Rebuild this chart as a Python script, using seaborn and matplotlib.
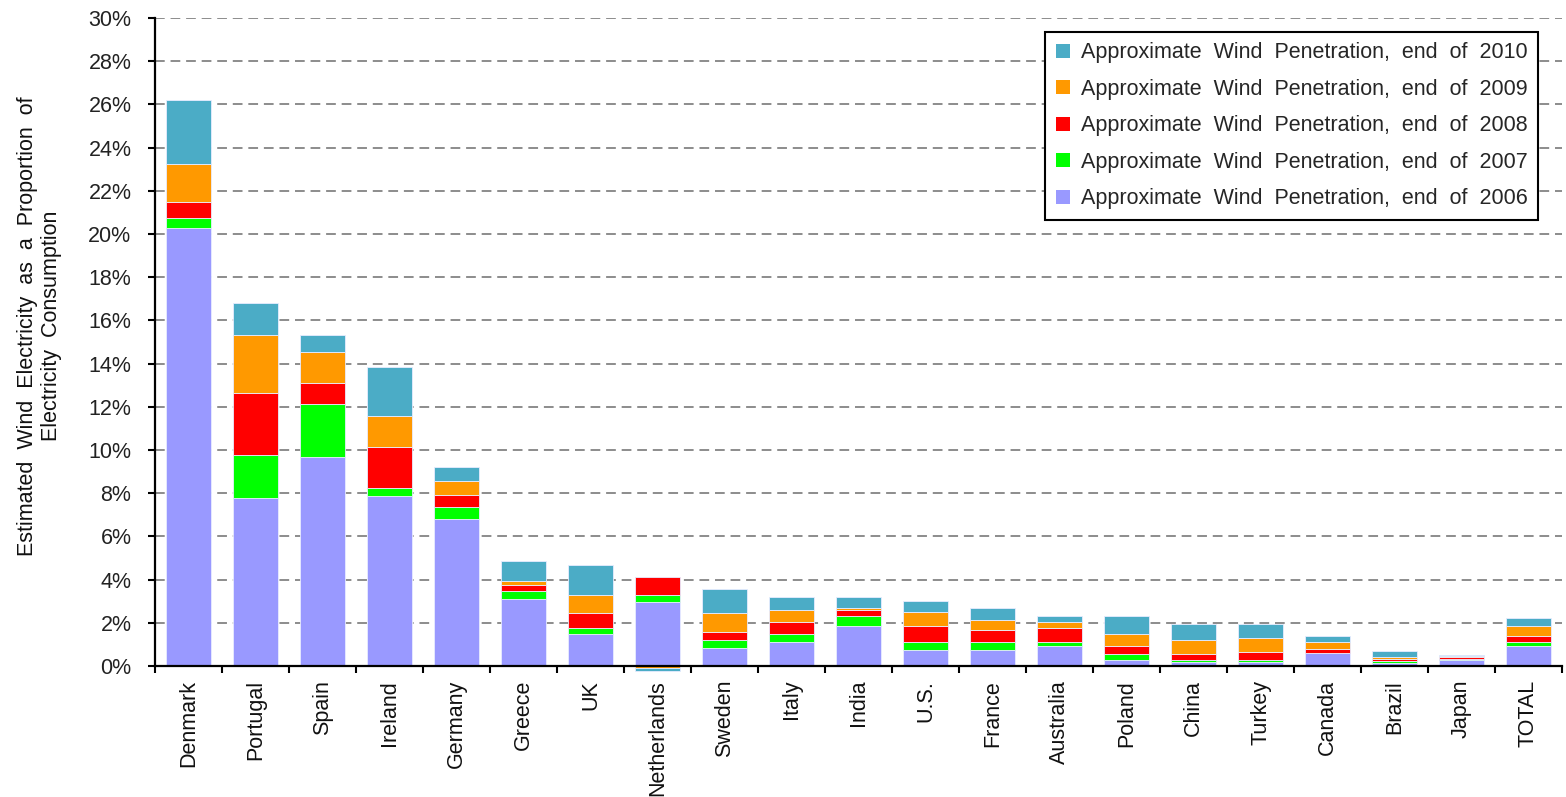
import numpy as np
import pandas as pd
import matplotlib
matplotlib.use("Agg")
import matplotlib.pyplot as plt
import seaborn as sns
from matplotlib.ticker import FuncFormatter, FixedLocator

countries = ["Denmark", "Portugal", "Spain", "Ireland", "Germany", "Greece", "UK",
             "Netherlands", "Sweden", "Italy", "India", "U.S.", "France", "Australia",
             "Poland", "China", "Turkey", "Canada", "Brazil", "Japan", "TOTAL"]

# Segment sizes (% of electricity consumption) as stacked in the chart
pen_2006 = [20.30, 7.77, 9.68, 7.88, 6.80, 3.12, 1.50, 2.94, 0.85, 1.12, 1.85,
            0.76, 0.76, 0.94, 0.30, 0.20, 0.20, 0.58, 0.12, 0.30, 0.94]
inc_2007 = [0.42, 2.00, 2.44, 0.35, 0.57, 0.36, 0.28, 0.37, 0.36, 0.36, 0.45,
            0.36, 0.36, 0.18, 0.27, 0.10, 0.10, 0.02, 0.10, 0.02, 0.18]
inc_2008 = [0.76, 2.88, 1.00, 1.91, 0.56, 0.27, 0.69, 0.83, 0.38, 0.55, 0.28,
            0.73, 0.55, 0.63, 0.37, 0.27, 0.36, 0.18, 0.09, 0.10, 0.26]
inc_2009 = [1.78, 2.66, 1.40, 1.42, 0.63, 0.19, 0.84, -0.10, 0.85, 0.55, 0.09,
            0.65, 0.45, 0.28, 0.54, 0.63, 0.64, 0.35, 0.09, 0.02, 0.47]
inc_2010 = [2.94, 1.49, 0.80, 2.30, 0.64, 0.94, 1.38, -0.12, 1.14, 0.62, 0.53,
            0.50, 0.58, 0.28, 0.83, 0.74, 0.64, 0.27, 0.28, 0.05, 0.37]

series_labels = ["Approximate  Wind  Penetration,  end  of  2006",
                 "Approximate  Wind  Penetration,  end  of  2007",
                 "Approximate  Wind  Penetration,  end  of  2008",
                 "Approximate  Wind  Penetration,  end  of  2009",
                 "Approximate  Wind  Penetration,  end  of  2010"]
series_colors = ["#9999FF", "#00FF00", "#FF0000", "#FF9900", "#4BACC6"]

sns.set_style("white")
plt.rcParams["font.family"] = ["Liberation Sans", "DejaVu Sans"]

fig = plt.figure(figsize=(15.66, 7.97), dpi=100)
ax = fig.add_axes([155 / 1566, 1 - 666 / 797, 1407 / 1566, 648 / 797])

series = [pen_2006, inc_2007, inc_2008, inc_2009, inc_2010]
pos_base = np.zeros(len(countries))
neg_base = np.zeros(len(countries))
for vals, lab, col in zip(series, series_labels, series_colors):
    v = np.array(vals, dtype=float)
    bottom = np.where(v >= 0, pos_base, neg_base)
    df = pd.DataFrame({"country": countries, "value": v})
    sns.barplot(data=df, x="country", y="value", color=col, saturation=1,
                bottom=bottom, width=0.66, errorbar=None, ax=ax, label=lab,
                edgecolor="#E8ECFF", linewidth=0.6, zorder=2)
    pos_base = pos_base + np.where(v >= 0, v, 0)
    neg_base = neg_base + np.where(v < 0, v, 0)

for p in ax.patches:
    p.set_clip_on(False)

ax.set_xlim(-0.5, len(countries) - 0.5)
ax.set_ylim(0, 30)
ax.set_yticks(np.arange(0, 31, 2))
ax.yaxis.set_major_formatter(FuncFormatter(lambda y, p: f"{int(round(y))}%"))
ax.grid(axis="y", color="#8C8C8C", linestyle=(0, (5, 3)), linewidth=1.4, zorder=0)
ax.set_axisbelow(True)

for s in ["top", "right"]:
    ax.spines[s].set_visible(False)
for s in ["left", "bottom"]:
    ax.spines[s].set_color("black")
    ax.spines[s].set_linewidth(1.6)
    ax.spines[s].set_zorder(3)

ax.set_xlabel("")
ax.set_xticks(range(len(countries)))
ax.set_xticklabels(countries, rotation=90, va="top", ha="center")
ax.xaxis.set_minor_locator(FixedLocator(np.arange(-0.5, len(countries), 1.0)))
ax.tick_params(axis="x", which="major", length=0, pad=10, labelsize=15.5, labelcolor="#111111")
ax.tick_params(axis="x", which="minor", length=5, width=1.5, color="black", direction="out", bottom=True)
ax.tick_params(axis="y", which="major", length=5, width=1.5, color="black", direction="out",
               left=True, pad=12, labelsize=15.5, labelcolor="#222222")

ax.set_ylabel("Estimated  Wind  Electricity  as  a  Proportion  of\nElectricity  Consumption",
              fontsize=15.5, color="#111111", multialignment="center")
ax.yaxis.set_label_coords(-0.066, 0.525)

handles, labels = ax.get_legend_handles_labels()
leg = ax.legend(handles[::-1], labels[::-1], loc="upper right",
                bbox_to_anchor=(0.983, 0.979), borderaxespad=0, fontsize=15.5,
                frameon=True, fancybox=False, edgecolor="black", framealpha=1,
                handlelength=0.65, handleheight=0.65, handletextpad=0.5,
                labelspacing=0.72, borderpad=0.5)
leg.get_frame().set_linewidth(1.5)
for h in leg.legend_handles:
    h.set_edgecolor("none")

fig.savefig("out.png", dpi=100)
